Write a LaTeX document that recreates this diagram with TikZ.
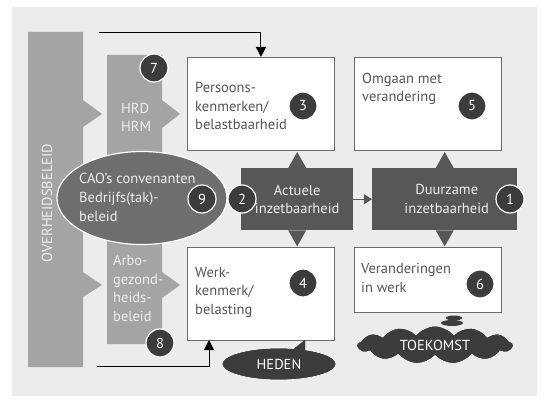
\documentclass[tikz,border=0pt]{standalone}
\usepackage{fontspec}
\setmainfont{PT Sans}
\usepackage{xcolor}
\usetikzlibrary{shapes.geometric,shapes.symbols,arrows.meta,calc}

\definecolor{paneel}{HTML}{ECECEC}
\definecolor{balk}{HTML}{A4A4A4}
\definecolor{ovaal}{HTML}{6E6E6E}
\definecolor{donker}{HTML}{575757}
\definecolor{bol}{HTML}{3C3C3C}
\definecolor{rand}{HTML}{6A6A6A}
\definecolor{tekst}{HTML}{555555}
\definecolor{licht}{HTML}{EEEEEE}

\tikzset{
  wbox/.style={draw=rand,line width=0.9pt,fill=white,anchor=north west,inner sep=0pt},
  dbox/.style={fill=donker,anchor=north west,inner sep=0pt},
  nummer/.style={circle,fill=bol,draw=white,line width=1.2pt,text=white,minimum size=28pt,inner sep=0pt},
  boxtekst/.style={text=tekst,align=left,anchor=base west,inner sep=0pt},
  lichttekst/.style={text=licht,align=left,anchor=base west,inner sep=0pt},
}

\begin{document}
\begin{tikzpicture}[x=1pt,y=-1pt,every node/.style={font=\fontsize{14.5}{18.5}\selectfont}]
            \useasboundingbox (0,0) rectangle (545,403);
            \fill[paneel] (12,7) rectangle (537,396);
            \fill[balk] (28,32)--(83,32)--(83,100)--(102,114)--(83,127)--(83,272)--(102,285)--(83,297)--(83,367)--(28,367)--cycle;
            \fill[balk] (107,55)--(162,55)--(162,100)--(180,114)--(162,128)--(162,185)--(107,185)--cycle;
            \fill[balk] (107,235)--(162,235)--(162,272)--(180,285)--(162,298)--(162,344)--(107,344)--cycle;
            \node[rotate=90,text=licht] (overheid) at (47,203) {OVERHEIDSBELEID};
            \node[lichttekst] (hrd) at (121,132) {HRD\\HRM};
            \node[lichttekst] (arbo) at (113,321) {Arbo-\\gezond-\\heids-\\beleid};
            \node[ellipse,fill=ovaal,draw=white,line width=1.2pt,minimum width=170pt,minimum height=93pt] (cao) at (142,198) {};
            \node[lichttekst] (caotxt) at (79,221) {CAO’s convenanten\\Bedrijfs(tak)-\\beleid};

            \node[wbox,minimum width=147pt,minimum height=93pt] (pers) at (187,57) {};
            \node[wbox,minimum width=147pt,minimum height=93pt] (omg) at (354,57) {};
            \node[wbox,minimum width=147pt,minimum height=93pt] (werk) at (187,247) {};
            \node[wbox,minimum width=147pt,minimum height=65pt] (ver) at (354,247) {};
            \node[boxtekst] (perstxt) at (195,130) {Persoons-\\kenmerken/\\belastbaarheid};
            \node[boxtekst] (omgtxt) at (362,102) {Omgaan met\\verandering};
            \node[boxtekst] (werktxt) at (195,314) {Werk-\\kenmerk/\\belasting};
            \node[boxtekst] (vertxt) at (361,292) {Veranderingen\\in werk};

            \node[dbox,minimum width=112pt,minimum height=62pt] (act) at (241,168) {};
            \node[dbox,minimum width=145pt,minimum height=62pt] (duur) at (372,168) {};
            \fill[donker] ($(act.north)+(-9,0)$)--($(act.north)+(0,-16)$)--($(act.north)+(9,0)$)--cycle;
            \fill[donker] ($(act.south)+(-9,0)$)--($(act.south)+(0,16)$)--($(act.south)+(9,0)$)--cycle;
            \fill[donker] ($(duur.north)+(-9,0)$)--($(duur.north)+(0,-16)$)--($(duur.north)+(9,0)$)--cycle;
            \fill[donker] ($(duur.south)+(-9,0)$)--($(duur.south)+(0,16)$)--($(duur.south)+(9,0)$)--cycle;
            \node[text=licht,align=center] (acttxt) at (act) {Actuele\\inzetbaarheid};
            \node[text=licht,align=center] (duurtxt) at ($(duur)+(2,0)$) {Duurzame\\inzetbaarheid};
            \draw[donker,line width=1pt,-{Triangle[length=8pt,width=10pt]}] (act) -- (duur);

            \coordinate (topstart) at (99,33);
            \coordinate (onderstart) at (97,366);
            \coordinate (werkin) at (209,340);
            \draw[line width=1pt,-{Triangle[length=10pt,width=10pt]}] (topstart) -| (pers.north);
            \draw[line width=1pt,-{Triangle[length=10pt,width=10pt]}] (onderstart) -| (werkin);

            \coordinate (staart) at (305,340);
            \fill[bol] (289,353)--(staart)--(305,357)--cycle;
            \node[ellipse,fill=bol,draw=white,line width=0.6pt,minimum width=114pt,minimum height=32pt,text=white] (heden) at (279,364) {HEDEN};
            \fill[bol] (289,352.5)--(staart)--(305,356)--cycle;
            \node[cloud,cloud puffs=13,cloud puff arc=100,aspect=4.5,fill=bol,draw=white,line width=0.6pt,minimum width=156pt,minimum height=38pt,text=white] (toekomst) at (435,345) {TOEKOMST};
            \fill[bol] (454,318) ellipse (8pt and 2.5pt);
            \fill[bol] (452,323) ellipse (11pt and 3pt);

            \node[nummer] (n1) at (510,199) {1};
            \node[nummer] (n2) at (242,199) {2};
            \node[nummer] (n3) at (303,106) {3};
            \node[nummer] (n4) at (303,283) {4};
            \node[nummer] (n5) at (472,106) {5};
            \node[nummer] (n6) at (480,284) {6};
            \node[nummer] (n7) at (154,68) {7};
            \node[nummer] (n8) at (160,343) {8};
            \node[nummer] (n9) at (202,199) {9};
        \end{tikzpicture}
\end{document}
